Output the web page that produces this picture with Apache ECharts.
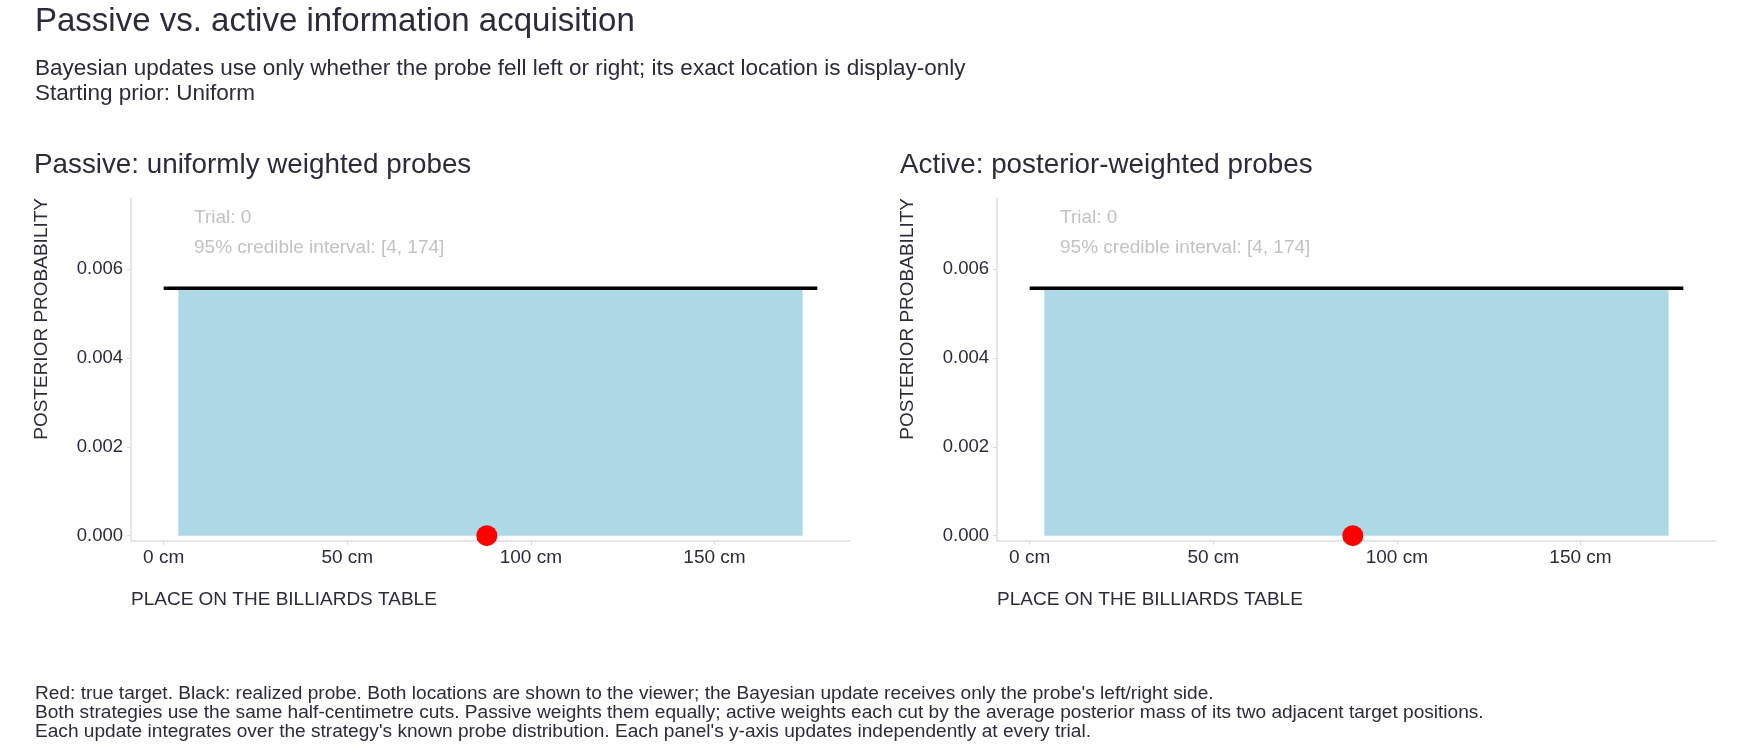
<!DOCTYPE html>
<html>
<head>
<meta charset="utf-8">
<title>Passive vs. active information acquisition</title>
<script src="https://cdn.jsdelivr.net/npm/echarts@6.0.0/dist/echarts.min.js"></script>
<style>
    html, body { margin: 0; padding: 0; background: #fff; }
    #chart { width: 1750px; height: 750px; }
</style>
</head>
<body>
<div id="chart"></div>
<script>
//面板标题
const panelTitles = ['Passive: uniformly weighted probes', 'Active: posterior-weighted probes'];
//后验密度线（试验0：均匀先验）
const tableCm = [0, 178];
const posterior = [0.00557, 0.00557];
//95% 可信区间
const ciCm = [4, 174];
const ciDensity = [0.00557, 0.00557];
//真实目标位置
const targetCm = [88, 88];
const trials = [0, 0];
//刻度
const xTicks = [0, 50, 100, 150];
const yTicks = [0, 0.002, 0.004, 0.006];

const footnotes = [
    "Red: true target. Black: realized probe. Both locations are shown to the viewer; the Bayesian update receives only the probe's left/right side.",
    "Both strategies use the same half-centimetre cuts. Passive weights them equally; active weights each cut by the average posterior mass of its two adjacent target positions.",
    "Each update integrates over the strategy's known probe distribution. Each panel's y-axis updates independently at every trial."
];

const font = '"Liberation Sans", Arial, sans-serif';
const textColor = '#2b2b3b';
const axisColor = '#dcdce3';
const gridLeft = [131, 997];
const gridTop = 198;
const gridW = 719;
const gridH = 343;

let chart = echarts.init(document.getElementById('chart'), null, { renderer: 'canvas' });

let grids = [], xAxes = [], yAxes = [], series = [], texts = [];

//总标题
texts.push({ type: 'text', x: 35, y: 22, style: { text: 'Passive vs. active information acquisition', font: '33px ' + font, fill: textColor, verticalAlign: 'middle' } });
texts.push({ type: 'text', x: 35, y: 69, style: { text: 'Bayesian updates use only whether the probe fell left or right; its exact location is display-only', font: '22.5px ' + font, fill: textColor, verticalAlign: 'middle' } });
texts.push({ type: 'text', x: 35, y: 94, style: { text: 'Starting prior: Uniform', font: '22.5px ' + font, fill: textColor, verticalAlign: 'middle' } });

//脚注
footnotes.forEach(function (line, i) {
    texts.push({ type: 'text', x: 35, y: 694 + i * 18.8, style: { text: line, font: '19.1px ' + font, fill: textColor, verticalAlign: 'middle' } });
});

for (let p = 0; p < 2; p++) {
    const gl = gridLeft[p];
    grids.push({ left: gl, top: gridTop, width: gridW, height: gridH, containLabel: false });

    xAxes.push({
        gridIndex: p,
        type: 'value',
        min: -8.9,
        max: 186.9,
        axisLine: { show: true, onZero: false, lineStyle: { color: axisColor, width: 1.5 } },
        axisTick: { show: true, length: 4, customValues: xTicks, lineStyle: { color: axisColor } },
        axisLabel: {
            customValues: xTicks,
            margin: 7,
            color: textColor,
            fontFamily: font,
            fontSize: 19,
            formatter: function (v) { return v + ' cm'; }
        },
        splitLine: { show: false }
    });

    yAxes.push({
        gridIndex: p,
        type: 'value',
        min: -0.00012,
        max: 0.0076,
        axisLine: { show: true, onZero: false, lineStyle: { color: axisColor, width: 1.5 } },
        axisTick: { show: true, length: 4, customValues: yTicks, lineStyle: { color: axisColor } },
        axisLabel: {
            customValues: yTicks,
            margin: 8,
            color: textColor,
            fontFamily: font,
            fontSize: 18.5,
            formatter: function (v) { return v.toFixed(3); }
        },
        splitLine: { show: false }
    });

    //可信区间填充
    series.push({
        type: 'line',
        xAxisIndex: p,
        yAxisIndex: p,
        data: ciCm.map(function (x, i) { return [x, ciDensity[i]]; }),
        symbol: 'none',
        lineStyle: { width: 0 },
        areaStyle: { color: '#add8e6', opacity: 1 },
        silent: true,
        z: 1
    });

    //真实目标
    series.push({
        type: 'scatter',
        xAxisIndex: p,
        yAxisIndex: p,
        data: [[targetCm[p], 0]],
        symbol: 'circle',
        symbolSize: 21,
        itemStyle: { color: '#ff0000', opacity: 1 },
        silent: true,
        z: 3
    });

    //后验密度
    series.push({
        type: 'line',
        xAxisIndex: p,
        yAxisIndex: p,
        data: tableCm.map(function (x, i) { return [x, posterior[i]]; }),
        symbol: 'none',
        lineStyle: { color: '#000', width: 3.5 },
        silent: true,
        z: 4
    });

    //面板标题和注释
    texts.push({ type: 'text', x: gl - 97, y: 165, style: { text: panelTitles[p], font: '27.8px ' + font, fill: textColor, verticalAlign: 'middle' } });
    texts.push({ type: 'text', x: gl + 63, y: 218, style: { text: 'Trial: ' + trials[p], font: '19px ' + font, fill: '#c2c2c2', verticalAlign: 'middle' } });
    texts.push({ type: 'text', x: gl + 63, y: 248, style: { text: '95% credible interval: [' + ciCm[0] + ', ' + ciCm[1] + ']', font: '19px ' + font, fill: '#c2c2c2', verticalAlign: 'middle' } });
    //坐标轴标题
    texts.push({ type: 'text', x: gl, y: 600, style: { text: 'PLACE ON THE BILLIARDS TABLE', font: '19px ' + font, fill: textColor, verticalAlign: 'middle' } });
    texts.push({ type: 'text', x: gl - 89, y: gridTop, rotation: Math.PI / 2, style: { text: 'POSTERIOR PROBABILITY', font: '19px ' + font, fill: textColor, align: 'right', verticalAlign: 'middle' } });
}

let option = {
    animation: false,
    backgroundColor: '#fff',
    grid: grids,
    xAxis: xAxes,
    yAxis: yAxes,
    series: series,
    graphic: { elements: texts }
};
chart.setOption(option);
</script>
</body>
</html>
